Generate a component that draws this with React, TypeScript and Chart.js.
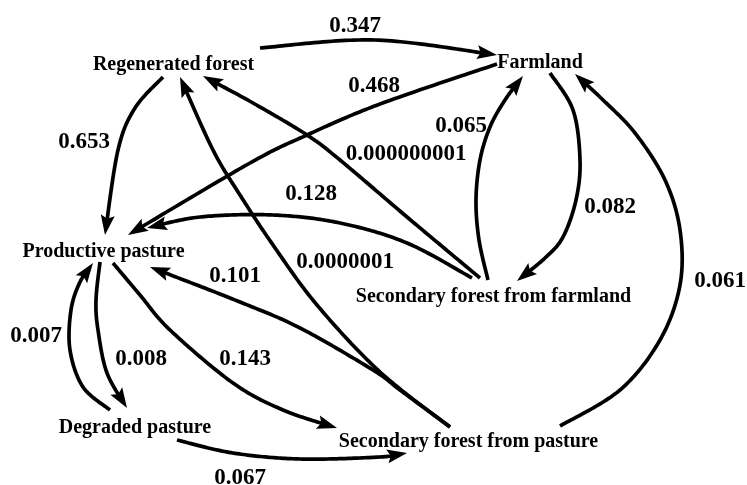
import React, { useEffect, useRef } from "react";
import { Chart, registerables } from "chart.js";
Chart.register(...registerables);

// Nodes of the transition network
const nodeNames = [
  "Regenerated forest",
  "Farmland",
  "Productive pasture",
  "Secondary forest from farmland",
  "Degraded pasture",
  "Secondary forest from pasture",
];
// label anchor (centre x, baseline y) in chart units
const nodeLabelX = [173.5, 540, 103.5, 493.5, 135, 468.5];
const nodeLabelY = [70, 68, 257, 302, 433, 447];

// Edges (transition probabilities)
const edgeFrom = [0, 1, 0, 3, 3, 1, 5, 3, 5, 5, 2, 4, 2, 4];
const edgeTo = [1, 2, 2, 1, 0, 3, 1, 2, 2, 0, 4, 2, 5, 5];
const edgeValues = [
  "0.347", "0.468", "0.653", "0.065", "0.000000001", "0.082", "0.061",
  "0.128", "0.101", "0.0000001", "0.008", "0.007", "0.143", "0.067",
];
const edgeLabelX = [355, 374, 84, 461, 406, 610, 720, 311, 235, 345, 141, 36, 245, 240];
const edgeLabelY = [32, 92, 148, 132, 160, 213, 287, 200, 282, 268, 365, 342, 365, 484];

// routed path of every edge (chart units), ending at the arrow tip
const edgePaths: number[][][] = [
  [[260, 48], [375, 40], [497, 55]],
  [[497, 64], [380, 104], [307, 135], [250, 163], [128, 235]],
  [[163, 77], [135, 108], [118, 150], [105, 235]],
  [[488, 280], [479, 240], [476, 200], [480, 160], [490, 127], [505, 100], [523, 76]],
  [[480, 278], [407, 217], [340, 160], [307, 135], [253, 103], [203, 76]],
  [[550, 73], [573, 110], [580, 160], [576, 200], [563, 237], [545, 258], [517, 281]],
  [[560, 426], [620, 390], [660, 340], [680, 285], [680, 230], [665, 180], [635, 133], [603, 100], [575, 74]],
  [[472, 278], [407, 243], [340, 223], [273, 215], [200, 217], [147, 228]],
  [[450, 427], [400, 390], [373, 370], [300, 328], [240, 302], [150, 267]],
  [[450, 427], [380, 372], [317, 305], [273, 245], [240, 195], [213, 150], [180, 77]],
  [[100, 262], [96, 300], [98, 330], [107, 373], [127, 408]],
  [[110, 410], [83, 387], [70, 350], [71, 310], [80, 282], [93, 263]],
  [[113, 263], [140, 295], [170, 330], [233, 383], [283, 410], [337, 428]],
  [[177, 440], [233, 453], [300, 459], [380, 457], [407, 453]],
];

const W = 747;
const H = 485;

function sampleSpline(pts: number[][]): number[][] {
  const out: number[][] = [];
  const n = pts.length;
  for (let i = 0; i < n - 1; i++) {
    const p0 = pts[Math.max(i - 1, 0)];
    const p1 = pts[i];
    const p2 = pts[i + 1];
    const p3 = pts[Math.min(i + 2, n - 1)];
    const c1 = [p1[0] + (p2[0] - p0[0]) / 6, p1[1] + (p2[1] - p0[1]) / 6];
    const c2 = [p2[0] - (p3[0] - p1[0]) / 6, p2[1] - (p3[1] - p1[1]) / 6];
    const steps = 30;
    for (let s = i === 0 ? 0 : 1; s <= steps; s++) {
      const t = s / steps;
      const u = 1 - t;
      const x = u * u * u * p1[0] + 3 * u * u * t * c1[0] + 3 * u * t * t * c2[0] + t * t * t * p2[0];
      const y = u * u * u * p1[1] + 3 * u * u * t * c1[1] + 3 * u * t * t * c2[1] + t * t * t * p2[1];
      out.push([x, y]);
    }
  }
  return out;
}

const networkPlugin = {
  id: "network",
  afterDatasetsDraw(chart: any) {
    const ctx = chart.ctx as CanvasRenderingContext2D;
    const xs = chart.scales.x;
    const ys = chart.scales.y;
    ctx.save();
    ctx.strokeStyle = "#000";
    ctx.fillStyle = "#000";
    ctx.lineWidth = 3.7;
    ctx.lineCap = "butt";
    ctx.lineJoin = "round";
    const arrowLen = 20;
    const arrowHalf = 7;
    edgePaths.forEach((path) => {
      const px = path.map((p) => [xs.getPixelForValue(p[0]), ys.getPixelForValue(p[1])]);
      const pts = sampleSpline(px);
      const distFromEnd: number[] = new Array(pts.length).fill(0);
      for (let i = pts.length - 2; i >= 0; i--) {
        distFromEnd[i] = distFromEnd[i + 1] + Math.hypot(pts[i + 1][0] - pts[i][0], pts[i + 1][1] - pts[i][1]);
      }
      const pointAt = (d: number) => {
        for (let i = pts.length - 2; i >= 0; i--) {
          if (distFromEnd[i] >= d) {
            const a = pts[i];
            const b = pts[i + 1];
            const seg = distFromEnd[i] - distFromEnd[i + 1];
            const f = seg > 0 ? (d - distFromEnd[i + 1]) / seg : 0;
            return [b[0] + (a[0] - b[0]) * f, b[1] + (a[1] - b[1]) * f, i];
          }
        }
        return [pts[0][0], pts[0][1], 0];
      };
      const cut = pointAt(arrowLen * 0.6);
      ctx.beginPath();
      ctx.moveTo(pts[0][0], pts[0][1]);
      for (let i = 1; i <= cut[2]; i++) ctx.lineTo(pts[i][0], pts[i][1]);
      ctx.lineTo(cut[0], cut[1]);
      ctx.stroke();
      const tip = pts[pts.length - 1];
      const base = pointAt(arrowLen);
      let dx = tip[0] - base[0];
      let dy = tip[1] - base[1];
      const len = Math.hypot(dx, dy) || 1;
      dx /= len;
      dy /= len;
      const bx = tip[0] - dx * arrowLen;
      const by = tip[1] - dy * arrowLen;
      const nx = tip[0] - dx * arrowLen * 0.82;
      const ny = tip[1] - dy * arrowLen * 0.82;
      ctx.beginPath();
      ctx.moveTo(tip[0], tip[1]);
      ctx.lineTo(bx - dy * arrowHalf, by + dx * arrowHalf);
      ctx.lineTo(nx, ny);
      ctx.lineTo(bx + dy * arrowHalf, by - dx * arrowHalf);
      ctx.closePath();
      ctx.fill();
    });

    ctx.textAlign = "center";
    ctx.textBaseline = "alphabetic";
    ctx.font = 'bold 20px "Liberation Serif", "Times New Roman", serif';
    nodeNames.forEach((name, i) => {
      ctx.fillText(name, xs.getPixelForValue(nodeLabelX[i]), ys.getPixelForValue(nodeLabelY[i]));
    });
    ctx.font = 'bold 23px "Liberation Serif", "Times New Roman", serif';
    edgeValues.forEach((v, i) => {
      ctx.fillText(v, xs.getPixelForValue(edgeLabelX[i]), ys.getPixelForValue(edgeLabelY[i]));
    });
    ctx.restore();
  },
};

export default function App() {
  const ref = useRef<HTMLCanvasElement | null>(null);
  useEffect(() => {
    if (!ref.current) return;
    const chart = new Chart(ref.current, {
      type: "scatter",
      data: {
        datasets: [
          {
            label: "nodes",
            data: nodeNames.map((_, i) => ({ x: nodeLabelX[i], y: nodeLabelY[i] })),
            pointRadius: 0,
            pointHoverRadius: 0,
          },
        ],
      },
      options: {
        animation: false,
        responsive: false,
        devicePixelRatio: 1,
        layout: { padding: 0 },
        scales: {
          x: { type: "linear", min: 0, max: W, display: false },
          y: { type: "linear", min: 0, max: H, reverse: true, display: false },
        },
        plugins: { legend: { display: false }, tooltip: { enabled: false } },
        events: [],
      },
      plugins: [networkPlugin],
    });
    return () => chart.destroy();
  }, []);
  return (
    <div style={{ position: "absolute", left: 0, top: 0, width: W, height: H, background: "#fff" }}>
      <canvas ref={ref} width={W} height={H} style={{ width: W, height: H, display: "block" }} />
    </div>
  );
}
